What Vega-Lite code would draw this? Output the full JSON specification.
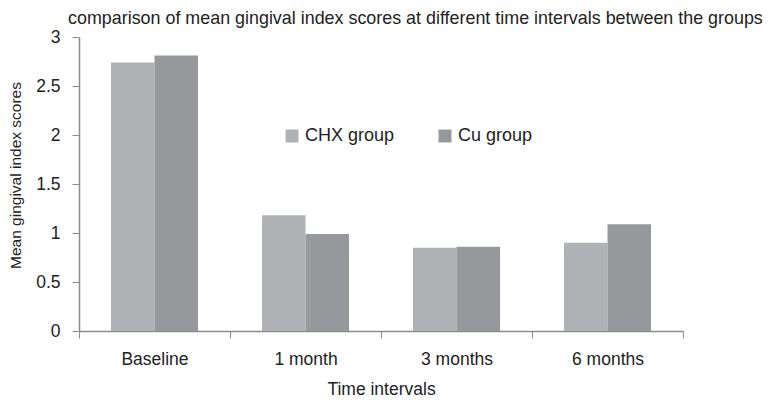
{
  "$schema": "https://vega.github.io/schema/vega-lite/v6.json",
  "width": 604,
  "height": 294,
  "autosize": {"type": "none"},
  "padding": {"left": 79, "top": 37, "right": 93, "bottom": 74},
  "background": "white",
  "title": {
    "text": "comparison of mean gingival index scores at  different time intervals between the groups",
    "anchor": "start",
    "frame": "group",
    "font": "Liberation Sans",
    "fontSize": 17.9,
    "fontWeight": "normal",
    "color": "#222222",
    "baseline": "alphabetic",
    "dx": -11,
    "dy": 14,
    "offset": 0
  },
  "data": {
    "values": [
      {"interval": "Baseline", "group": "CHX group", "score": 2.74},
      {"interval": "Baseline", "group": "Cu group", "score": 2.81},
      {"interval": "1 month", "group": "CHX group", "score": 1.18},
      {"interval": "1 month", "group": "Cu group", "score": 0.99},
      {"interval": "3 months", "group": "CHX group", "score": 0.85},
      {"interval": "3 months", "group": "Cu group", "score": 0.86},
      {"interval": "6 months", "group": "CHX group", "score": 0.90},
      {"interval": "6 months", "group": "Cu group", "score": 1.09}
    ]
  },
  "mark": {"type": "bar"},
  "encoding": {
    "x": {
      "field": "interval",
      "type": "nominal",
      "sort": ["Baseline", "1 month", "3 months", "6 months"],
      "scale": {"paddingInner": 0, "paddingOuter": 0},
      "title": "Time intervals",
      "axis": {
        "labelAngle": 0,
        "tickBand": "extent",
        "tickSize": 7,
        "labelPadding": 12,
        "titlePadding": 13
      }
    },
    "xOffset": {
      "field": "group",
      "type": "nominal",
      "sort": ["CHX group", "Cu group"],
      "scale": {"paddingInner": 0, "paddingOuter": 0.735}
    },
    "y": {
      "field": "score",
      "type": "quantitative",
      "scale": {"domain": [0, 3], "nice": false, "zero": true},
      "title": "Mean gingival index scores",
      "axis": {
        "values": [0, 0.5, 1, 1.5, 2, 2.5, 3],
        "format": "~g",
        "tickSize": 7,
        "labelPadding": 12,
        "titlePadding": 12,
        "titleFontSize": 15.5,
        "titleY": 138
      }
    },
    "color": {
      "field": "group",
      "type": "nominal",
      "sort": ["CHX group", "Cu group"],
      "scale": {"domain": ["CHX group", "Cu group"], "range": ["#b0b1b4", "#97989b"]},
      "legend": {
        "orient": "none",
        "legendX": 204,
        "legendY": 90,
        "direction": "horizontal",
        "title": null,
        "symbolType": "square",
        "symbolSize": 169,
        "symbolStrokeWidth": 0,
        "symbolOpacity": 1,
        "labelFont": "Liberation Sans",
        "labelFontSize": 18,
        "labelColor": "#222222",
        "labelOffset": 4,
        "columnPadding": 41,
        "padding": 0
      }
    }
  },
  "config": {
    "view": {"stroke": null},
    "axis": {
      "grid": false,
      "domainColor": "#8c8c8c",
      "domainWidth": 1.5,
      "tickColor": "#8c8c8c",
      "tickWidth": 1,
      "labelFont": "Liberation Sans",
      "labelFontSize": 17.5,
      "labelColor": "#222222",
      "titleFont": "Liberation Sans",
      "titleFontSize": 17.5,
      "titleFontWeight": "normal",
      "titleColor": "#222222"
    }
  }
}
